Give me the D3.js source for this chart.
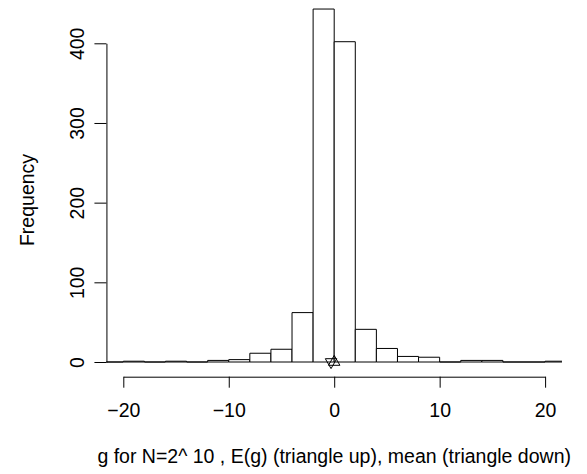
<!DOCTYPE html>
<html>
<head>
<meta charset="utf-8">
<script src="https://cdn.jsdelivr.net/npm/d3@7"></script>
<style>
  body { margin: 0; background: #fff; }
  text { font-family: "Liberation Sans", Arial, Helvetica, sans-serif; font-size: 19.5px; fill: #000; }
</style>
</head>
<body>
<div id="chart"></div>
<script>
// histogram bins (width 2) and their counts
const breaks = [-22, -20, -18, -16, -14, -12, -10, -8, -6, -4, -2, 0, 2, 4, 6, 8, 10, 12, 14, 16, 18, 20, 22];
const counts = [0, 1, 0, 1, 0, 2, 3, 11, 16, 62, 443, 402, 41, 17, 7, 6, 0, 2, 2, 0, 0, 1];
const xTicks = [-20, -10, 0, 10, 20];
const yTicks = [0, 100, 200, 300, 400];
const expected = 0;     // E(g), triangle up
const sampleMean = -0.3; // mean, triangle down
const xTitle = "g for N=2^ 10 , E(g) (triangle up), mean (triangle down)";
const yTitle = "Frequency";

const width = 587, height = 474;
const fontSize = "19.5px";

const bins = counts.map((c, i) => ({ x0: breaks[i], x1: breaks[i + 1], n: c }));

const x = d3.scaleLinear().domain([-20, 20]).range([123.3, 545.1]);
const y = d3.scaleLinear().domain([0, 400]).range([362, 43.3]);

// plot region: xlim extended by 4% like R
const plotLeft = x(-21.6), plotRight = x(21.6);
const axisY = 376.7;

const svg = d3.select("#chart")
  .append("svg")
  .attr("width", width)
  .attr("height", height);

svg.append("clipPath")
  .attr("id", "plotclip")
  .append("rect")
  .attr("x", plotLeft)
  .attr("y", 0)
  .attr("width", plotRight - plotLeft)
  .attr("height", axisY);

// bars (paths so empty bins still show as a line on zero)
svg.append("g")
  .attr("clip-path", "url(#plotclip)")
  .selectAll("path")
  .data(bins)
  .join("path")
  .attr("d", d => `M${x(d.x0)},${y(0)}V${y(d.n)}H${x(d.x1)}V${y(0)}Z`)
  .attr("fill", "white")
  .attr("stroke", "black")
  .attr("stroke-width", 1);

// x axis
const xAxis = svg.append("g")
  .attr("transform", `translate(0,${axisY})`)
  .call(d3.axisBottom(x).tickValues(xTicks).tickSize(11).tickSizeOuter(0).tickPadding(0));
xAxis.select(".domain").attr("stroke", "black");
xAxis.selectAll(".tick line").attr("stroke", "black");
xAxis.selectAll("text")
  .attr("y", 40)
  .attr("dy", 0)
  .style("font-size", fontSize)
  .style("font-family", "Liberation Sans, Arial, sans-serif");

// y axis
const yAxis = svg.append("g")
  .attr("transform", `translate(${plotLeft},0)`)
  .call(d3.axisLeft(y).tickValues(yTicks).tickSize(12).tickSizeOuter(0));
yAxis.select(".domain").attr("stroke", "black");
yAxis.selectAll(".tick line").attr("stroke", "black");
yAxis.selectAll("text")
  .attr("x", 0)
  .attr("dy", 0)
  .attr("text-anchor", "middle")
  .attr("transform", `translate(${84 - plotLeft},0) rotate(-90)`)
  .style("font-size", fontSize)
  .style("font-family", "Liberation Sans, Arial, sans-serif");

// axis titles
svg.append("text")
  .attr("x", (plotLeft + plotRight) / 2)
  .attr("y", 463)
  .attr("text-anchor", "middle")
  .text(xTitle);

svg.append("text")
  .attr("transform", `translate(34,200) rotate(-90)`)
  .attr("text-anchor", "middle")
  .text(yTitle);

// triangles for E(g) and mean
const r = 6.6;
const up = `M0,${-r}L${r * 0.866},${r / 2}L${-r * 0.866},${r / 2}Z`;
const down = `M0,${r}L${r * 0.866},${-r / 2}L${-r * 0.866},${-r / 2}Z`;

svg.append("path")
  .attr("d", up)
  .attr("transform", `translate(${x(expected)},${y(0)})`)
  .attr("fill", "none")
  .attr("stroke", "black");

svg.append("path")
  .attr("d", down)
  .attr("transform", `translate(${x(sampleMean)},${y(0)})`)
  .attr("fill", "none")
  .attr("stroke", "black");
</script>
</body>
</html>
